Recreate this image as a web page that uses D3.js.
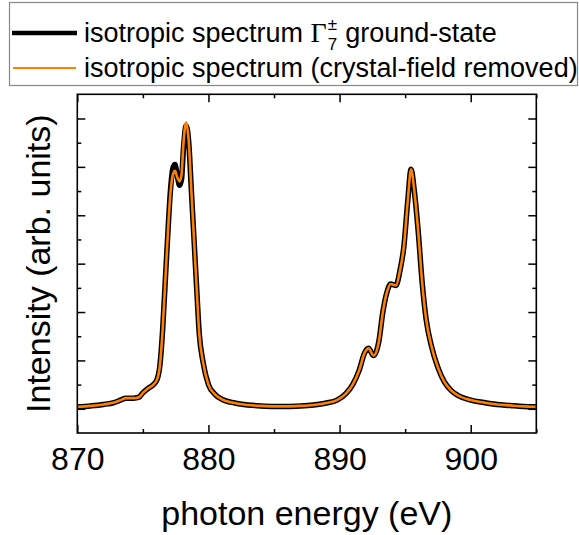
<!DOCTYPE html>
<html>
<head>
<meta charset="utf-8">
<script src="https://cdn.jsdelivr.net/npm/d3@7"></script>
<style>
  html, body { margin: 0; padding: 0; background: #fff; }
  svg { display: block; }
  text { font-family: "Liberation Sans", Arial, sans-serif; fill: #000; }
</style>
</head>
<body>
<svg id="chart" width="579" height="535"></svg>
<script>
// ---- data ----
const energy = [870.0, 871.0, 872.0, 872.8, 873.3, 873.7, 874.3, 874.7, 875.0, 875.4, 875.8, 876.1, 876.3, 876.5, 876.7, 876.9, 877.1, 877.3, 877.45, 877.6, 877.8, 877.95, 878.1, 878.3, 878.5, 878.7, 878.9, 879.1, 879.3, 879.6, 880.0, 880.5, 881.0, 882.0, 883.0, 884.0, 885.0, 886.0, 887.0, 888.0, 889.0, 889.8, 890.5, 891.0, 891.5, 891.9, 892.2, 892.6, 893.0, 893.3, 893.6, 893.9, 894.3, 894.6, 894.9, 895.2, 895.45, 895.7, 896.0, 896.3, 896.6, 897.0, 897.5, 898.0, 898.5, 899.0, 900.0, 901.0, 902.0, 903.0, 904.0, 905.0];
const gammaGroundState = [0.04, 0.06, 0.09, 0.13, 0.18, 0.22, 0.22, 0.24, 0.33, 0.42, 0.50, 0.62, 0.90, 1.60, 2.60, 3.60, 4.50, 4.98, 5.05, 4.85, 4.62, 4.75, 5.40, 5.85, 5.50, 4.50, 3.50, 2.50, 1.55, 0.95, 0.50, 0.30, 0.20, 0.12, 0.08, 0.06, 0.05, 0.05, 0.06, 0.08, 0.12, 0.18, 0.32, 0.50, 0.80, 1.15, 1.25, 1.10, 1.40, 2.00, 2.40, 2.58, 2.55, 2.85, 3.35, 4.30, 4.95, 4.50, 3.65, 2.60, 1.85, 1.30, 0.85, 0.55, 0.38, 0.28, 0.18, 0.13, 0.09, 0.07, 0.05, 0.04];
const crystalFieldRemoved = [0.04, 0.06, 0.09, 0.13, 0.18, 0.22, 0.22, 0.24, 0.33, 0.42, 0.50, 0.62, 0.90, 1.60, 2.60, 3.60, 4.45, 4.85, 4.92, 4.80, 4.70, 4.85, 5.50, 5.92, 5.52, 4.50, 3.50, 2.50, 1.55, 0.95, 0.50, 0.30, 0.20, 0.12, 0.08, 0.06, 0.05, 0.05, 0.06, 0.08, 0.12, 0.18, 0.32, 0.50, 0.80, 1.15, 1.25, 1.10, 1.40, 2.00, 2.40, 2.58, 2.55, 2.85, 3.35, 4.30, 4.95, 4.50, 3.65, 2.60, 1.85, 1.30, 0.85, 0.55, 0.38, 0.28, 0.18, 0.13, 0.09, 0.07, 0.05, 0.04];
const xMajorTicks = [870, 880, 890, 900];
const xMinorTicks = [875, 885, 895, 905];
const yMajorTicks = [0, 1, 2, 3, 4, 5, 6];
const yMinorTicks = [0.5, 1.5, 2.5, 3.5, 4.5, 5.5];
const legendLabels = ["isotropic spectrum", "isotropic spectrum (crystal-field removed)"];

// ---- layout ----
const svg = d3.select("#chart");
const L = 77.3, R = 536.3, T = 94.3, B = 433;
const x = d3.scaleLinear().domain([870, 905]).range([L, R]);
const y = d3.scaleLinear().domain([-0.5, 6.5]).range([B, T]);
const orange = "#ff8000";

// curves
const line = d3.line().x(d => x(d[0])).y(d => y(d[1])).curve(d3.curveMonotoneX);
const blackData = energy.map((e, i) => [e, gammaGroundState[i]]);
const orangeData = energy.map((e, i) => [e, crystalFieldRemoved[i]]);

svg.append("defs").append("clipPath").attr("id", "clip")
  .append("rect").attr("x", L).attr("y", T).attr("width", R - L).attr("height", B - T);

const g = svg.append("g").attr("clip-path", "url(#clip)");
g.append("path").datum(blackData).attr("d", line)
  .attr("fill", "none").attr("stroke", "#000").attr("stroke-width", 5.5).attr("stroke-linejoin", "round");
g.append("path").datum(orangeData).attr("d", line)
  .attr("fill", "none").attr("stroke", orange).attr("stroke-width", 2.6).attr("stroke-linejoin", "round");

// axes (ticks inside, mirrored)
function addAxis(axisFn, scale, ticks, size, tr) {
  const a = svg.append("g").attr("transform", tr)
    .call(axisFn(scale).tickValues(ticks).tickSize(size).tickFormat(""));
  a.select(".domain").remove();
  a.selectAll("line").attr("stroke", "#000").attr("stroke-width", 1.5);
  return a;
}
addAxis(d3.axisTop, x, xMajorTicks, 8, `translate(0,${B})`);
addAxis(d3.axisTop, x, xMinorTicks, 4, `translate(0,${B})`);
addAxis(d3.axisBottom, x, xMajorTicks, 8, `translate(0,${T})`);
addAxis(d3.axisBottom, x, xMinorTicks, 4, `translate(0,${T})`);
addAxis(d3.axisRight, y, yMajorTicks, 8, `translate(${L},0)`);
addAxis(d3.axisRight, y, yMinorTicks, 4, `translate(${L},0)`);
addAxis(d3.axisLeft, y, yMajorTicks, 8, `translate(${R},0)`);
addAxis(d3.axisLeft, y, yMinorTicks, 4, `translate(${R},0)`);

// frame
svg.append("rect").attr("x", L).attr("y", T).attr("width", R - L).attr("height", B - T)
  .attr("fill", "none").attr("stroke", "#000").attr("stroke-width", 1.6);

// x tick labels
const xl = svg.append("g").attr("transform", `translate(0,${B})`)
  .call(d3.axisBottom(x).tickValues(xMajorTicks).tickSize(0).tickPadding(0).tickFormat(d3.format("d")));
xl.select(".domain").remove();
xl.selectAll("text").attr("y", 37).attr("dy", null)
  .style("font-family", '"Liberation Sans", Arial, sans-serif').style("font-size", "32px");

// axis titles
svg.append("text").attr("x", (L + R) / 2).attr("y", 525).attr("text-anchor", "middle")
  .style("font-size", "34px").text("photon energy (eV)");
svg.append("text").attr("transform", `translate(50,${(T + B) / 2}) rotate(-90)`).attr("text-anchor", "middle")
  .style("font-size", "34px").text("Intensity (arb. units)");

// legend
const lg = svg.append("g");
lg.append("rect").attr("x", 9.5).attr("y", 2.5).attr("width", 568).attr("height", 83)
  .attr("fill", "#fff").attr("stroke", "#888").attr("stroke-width", 1.2);
lg.append("line").attr("x1", 12).attr("x2", 77).attr("y1", 33).attr("y2", 33)
  .attr("stroke", "#000").attr("stroke-width", 4.5);
lg.append("line").attr("x1", 13).attr("x2", 76).attr("y1", 68).attr("y2", 68)
  .attr("stroke", orange).attr("stroke-width", 2);
const fs = 27;
const t1 = lg.append("text").attr("x", 84).attr("y", 42).style("font-size", fs + "px").text(legendLabels[0]);
const w1 = t1.node().getComputedTextLength() + fs * 0.278;
const gam = lg.append("text").attr("x", 84 + w1).attr("y", 42)
  .style("font-family", '"Liberation Serif", "Times New Roman", serif').style("font-size", "28px").text("Γ");
const wg = gam.node().getComputedTextLength();
const sx = 84 + w1 + wg + 1;
const pm = lg.append("text").attr("x", sx).attr("y", 30).style("font-size", "17px").text("±");
const sev = lg.append("text").attr("x", sx).attr("y", 50).style("font-size", "17px").text("7");
const ws = Math.max(pm.node().getComputedTextLength(), sev.node().getComputedTextLength());
lg.append("text").attr("x", sx + ws + 8).attr("y", 42).style("font-size", fs + "px").text("ground-state");
lg.append("text").attr("x", 84).attr("y", 77).style("font-size", fs + "px").text(legendLabels[1]);
</script>
</body>
</html>
